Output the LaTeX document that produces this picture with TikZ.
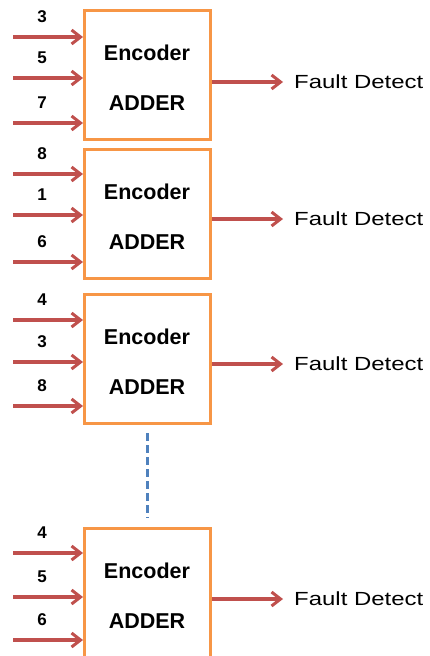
\documentclass[tikz,border=0pt]{standalone}
\usepackage{fontspec}
\setmainfont{Liberation Sans}
\usetikzlibrary{arrows.meta}
\definecolor{boxor}{HTML}{F79646}
\definecolor{arrred}{HTML}{C0504D}
\definecolor{dblue}{HTML}{4F81BD}
\tikzset{
  blk/.style={draw=boxor,line width=3pt,minimum width=126pt,minimum height=129pt,inner sep=0pt,fill=white},
  arr/.style={draw=arrred,line width=3.2pt,-{Straight Barb[length=9pt,width=14pt,line width=3pt]}},
  num/.style={font=\fontsize{17}{17}\selectfont\bfseries,inner sep=0pt},
  lbl/.style={font=\fontsize{21.5}{21.5}\selectfont\bfseries,inner sep=0pt},
  fd/.style={font=\fontsize{19}{19}\selectfont,inner sep=0pt,anchor=west},
}
\begin{document}
\begin{tikzpicture}[x=1pt,y=-1pt]
\useasboundingbox (0,0) rectangle (429,656);
\clip (0,0) rectangle (429,656);
\fill[white] (0,0) rectangle (429,656);
\foreach \k/\t/\ya/\yb/\yc/\na/\nb/\nc/\yo in {
  1/9/37/78/123/3/5/7/82,
  2/148/174/215/262/8/1/6/219,
  3/293/320/362/406/4/3/8/364,
  4/527/553/597/640/4/5/6/599}{
  \node[blk,anchor=north west] (b\k) at (83,\t) {};
  \node[lbl] (e\k) at (147,\t+44) {Encoder};
  \node[lbl] (a\k) at (147,\t+94) {ADDER};
  \coordinate (ia\k) at (13,\ya);
  \coordinate (ib\k) at (13,\yb);
  \coordinate (ic\k) at (13,\yc);
  \draw[arr] (ia\k) -- (b\k.west |- ia\k);
  \draw[arr] (ib\k) -- (b\k.west |- ib\k);
  \draw[arr] (ic\k) -- (b\k.west |- ic\k);
  \node[num] (na\k) at (42,\ya-20) {\na};
  \node[num] (nb\k) at (42,\yb-20) {\nb};
  \node[num] (nc\k) at (42,\yc-20) {\nc};
  \coordinate (o\k) at (283,\yo);
  \draw[arr] (b\k.east |- o\k) -- (o\k);
  \node[fd] (f\k) at (294,\yo) {\scalebox{1.26}[1]{Fault Detect}};
}
\coordinate (d1) at (147,433);
\coordinate (d2) at (147,518);
\draw[dblue,line width=3pt,dash pattern=on 8pt off 4pt] (d1) -- (d2);
\end{tikzpicture}
\end{document}
